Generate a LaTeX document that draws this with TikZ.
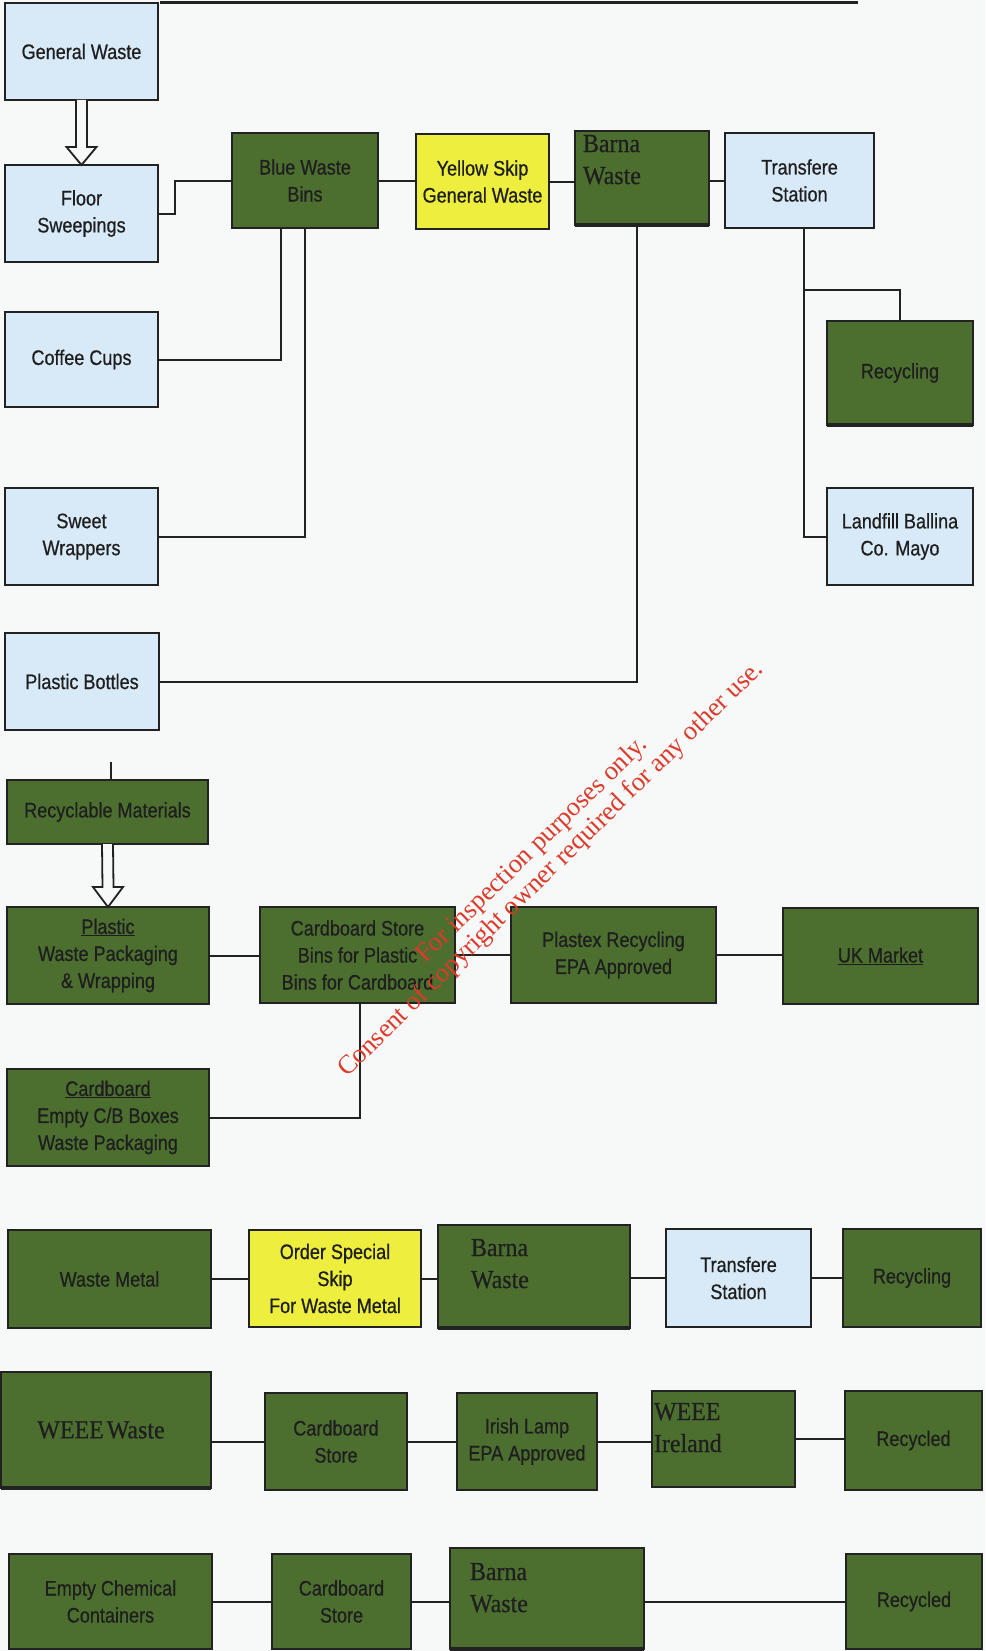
\documentclass[tikz,border=0pt]{standalone}
\usepackage{fontspec}
\usetikzlibrary{calc}
\newfontfamily\lblfont[FakeStretch=0.86,FakeBold=0.6]{Liberation Sans}
\newfontfamily\serfont[FakeStretch=0.92,FakeBold=0.6]{Liberation Serif}
\newfontfamily\wmfont{Liberation Serif}
\definecolor{bgc}{HTML}{F7F8F8}
\definecolor{lblue}{HTML}{D8E9F7}
\definecolor{ogreen}{HTML}{4C6F30}
\definecolor{yel}{HTML}{EDEE3D}
\definecolor{boxline}{HTML}{222222}
\definecolor{gtxt}{HTML}{1E1E1E}
\definecolor{wmred}{HTML}{DC3A2A}
\tikzset{
  box/.style={draw=boxline, line width=2.2, inner sep=0, outer sep=0, align=center,
    font={\lblfont\fontsize{21}{27}\selectfont}, text=gtxt},
  bluebox/.style={box, fill=lblue},
  greenbox/.style={box, fill=ogreen},
  yelbox/.style={box, fill=yel},
  serlabel/.style={inner sep=0, outer sep=0, anchor=north west, align=left, text=gtxt,
    font={\serfont\fontsize{26}{32}\selectfont}},
  conn/.style={draw=boxline, line width=2},
  hollow/.style={draw=boxline, line width=1.8, fill=bgc, line join=miter},
  heavybottom/.style={draw=boxline, line width=4.5},
  watermark/.style={text=wmred, align=center, inner sep=0,
    font={\wmfont\fontsize{26.5}{27}\selectfont}}
}
\begin{document}
\begin{tikzpicture}[x=1pt,y=-1pt]
\fill[bgc] (0,0) rectangle (985,1651);
\useasboundingbox (0,0) rectangle (985,1651);

% --- upper section ---
\node[bluebox, minimum width=153, minimum height=97] (GW) at (81.5,51.5) {General Waste};
\node[bluebox, minimum width=153, minimum height=97] (FS) at (81.5,213.5) {Floor\\Sweepings};
\node[greenbox, minimum width=146, minimum height=95] (BB) at (305,180.5) {Blue Waste\\Bins};
\node[yelbox, minimum width=133, minimum height=95] (YS) at (482.5,181.5) {Yellow Skip\\General Waste};
\node[greenbox, minimum width=134, minimum height=94,
  label={[serlabel, xshift=8, yshift=-4]north west:{Barna\\Waste}}] (BW1) at (642,178) {};
\node[bluebox, minimum width=149, minimum height=95] (TS1) at (799.5,180.5) {Transfere\\Station};
\node[greenbox, minimum width=146, minimum height=104] (RC1) at (900,373) {Recycling};
\node[bluebox, minimum width=146, minimum height=97] (LF) at (900,536.5) {Landfill Ballina\\Co. Mayo};
\node[bluebox, minimum width=153, minimum height=95] (CC) at (81.5,359.5) {Coffee Cups};
\node[bluebox, minimum width=153, minimum height=97] (SW) at (81.5,536.5) {Sweet\\Wrappers};
\node[bluebox, minimum width=154, minimum height=97] (PB) at (82,681.5) {Plastic Bottles};

% --- recyclables section ---
\node[greenbox, minimum width=201, minimum height=64] (RM) at (107.5,812) {Recyclable Materials};
\node[greenbox, minimum width=202, minimum height=97] (PL) at (108,955.5) {\underline{Plastic}\\Waste Packaging\\\& Wrapping};
\node[greenbox, minimum width=195, minimum height=96] (CS) at (357.5,955) {Cardboard Store\\Bins for Plastic\\Bins for Cardboard};
\node[greenbox, minimum width=205, minimum height=96] (PX) at (613.5,955) {Plastex Recycling\\EPA Approved};
\node[greenbox, minimum width=195, minimum height=96] (UK) at (880.5,956) {\underline{UK Market}};
\node[greenbox, minimum width=202, minimum height=97] (CB) at (108,1117.5) {\underline{Cardboard}\\Empty C/B Boxes\\Waste Packaging};

% --- metal row ---
\node[greenbox, minimum width=203, minimum height=98] (WM) at (109.5,1279) {Waste Metal};
\node[yelbox, minimum width=172, minimum height=97] (OS) at (335,1278.5) {Order Special\\Skip\\For Waste Metal};
\node[greenbox, minimum width=192, minimum height=103,
  label={[serlabel, xshift=33, yshift=-14]north west:{Barna\\Waste}}] (BW2) at (534,1276.5) {};
\node[bluebox, minimum width=145, minimum height=98] (TS2) at (738.5,1278) {Transfere\\Station};
\node[greenbox, minimum width=138, minimum height=98] (RC2) at (912,1278) {Recycling};

% --- WEEE row ---
\node[greenbox, minimum width=210, minimum height=116,
  font={\serfont\fontsize{26}{32}\selectfont}] (WW) at (106,1430) {WEEE\hspace{3pt}Waste\hspace*{10pt}};
\node[greenbox, minimum width=142, minimum height=97] (CS2) at (336,1441.5) {Cardboard\\Store};
\node[greenbox, minimum width=140, minimum height=97] (IL) at (527,1441.5) {Irish Lamp\\EPA Approved};
\node[greenbox, minimum width=143, minimum height=96,
  label={[serlabel, xshift=2, yshift=-12]north west:{WEEE\\Ireland}}] (WI) at (723.5,1439) {};
\node[greenbox, minimum width=137, minimum height=99] (RD1) at (913.5,1440.5) {Recycled};

% --- chemical row ---
\node[greenbox, minimum width=203, minimum height=95] (EC) at (110.5,1601.5) {Empty Chemical\\Containers};
\node[greenbox, minimum width=139, minimum height=95] (CS3) at (341.5,1601.5) {Cardboard\\Store};
\node[greenbox, minimum width=194, minimum height=101,
  label={[serlabel, xshift=20, yshift=-15]north west:{Barna\\Waste}}] (BW3) at (547,1598.5) {};
\node[greenbox, minimum width=136, minimum height=95] (RD2) at (914,1601.5) {Recycled};

% heavy bottom edges
\draw[heavybottom] (BW1.south west) -- (BW1.south east);
\draw[heavybottom] (BW2.south west) -- (BW2.south east);
\draw[heavybottom] (BW3.south west) -- (BW3.south east);
\draw[heavybottom] (RC1.south west) -- (RC1.south east);
\draw[heavybottom] (WW.south west) -- (WW.south east);

% --- connectors ---
\coordinate (top1) at (160,2.5);
\coordinate (top2) at (858,2.5);
\draw[conn, line width=3] (top1) -- (top2);

% hollow arrows
\draw[hollow] ($(GW.south)+(-5.5,0)$) -- ($(FS.north)+(-5.5,-18)$) -- ($(FS.north)+(-15,-18)$)
  -- (FS.north) -- ($(FS.north)+(15,-18)$) -- ($(FS.north)+(5.5,-18)$) -- ($(GW.south)+(5.5,0)$);
\draw[hollow] ($(RM.south)+(-5.5,0)$) -- ($(PL.north)+(-5.5,-20)$) -- ($(PL.north)+(-15,-20)$)
  -- (PL.north) -- ($(PL.north)+(15,-20)$) -- ($(PL.north)+(5.5,-20)$) -- ($(RM.south)+(5.5,0)$);

\draw[conn] (FS.east) -- ++(17,0) |- (BB.west);
\draw[conn] (BB.east) -- (BB.east -| YS.west);
\draw[conn] (YS.east) -- (YS.east -| BW1.west);
\draw[conn] (BW1.east |- TS1.west) -- (TS1.west);
\draw[conn] (CC.east) -| ($(BB.south west)+(49,0)$);
\draw[conn] (SW.east) -| ($(BB.south west)+(73,0)$);
\draw[conn] (PB.east) -| ($(BW1.south west)+(62,0)$);
\coordinate (tsx) at ($(TS1.south west)+(79,0)$);
\draw[conn] (tsx) |- (LF.west);
\draw[conn] ($(tsx)+(0,62)$) -| (RC1.north);

\coordinate (rmtop) at ($(RM.north)+(3,-18)$);
\draw[conn] (rmtop) -- (rmtop |- RM.north);
\draw[conn] (PL.east) -- (PL.east -| CS.west);
\draw[conn] (CS.east) -- (CS.east -| PX.west);
\draw[conn] (PX.east) -- (PX.east -| UK.west);
\draw[conn] (CB.east) -| ($(CS.south west)+(100,0)$);

\draw[conn] (WM.east) -- (WM.east -| OS.west);
\draw[conn] (OS.east) -- (OS.east -| BW2.west);
\draw[conn] (BW2.east |- TS2.west) -- (TS2.west);
\draw[conn] (TS2.east) -- (TS2.east -| RC2.west);

\draw[conn] (WW.east |- CS2.west) -- (CS2.west);
\draw[conn] (CS2.east) -- (CS2.east -| IL.west);
\draw[conn] (IL.east) -- (IL.east -| WI.west);
\draw[conn] (WI.east) -- (WI.east -| RD1.west);

\draw[conn] (EC.east) -- (EC.east -| CS3.west);
\draw[conn] (CS3.east) -- (CS3.east -| BW3.west);
\draw[conn] (BW3.east |- RD2.west) -- (RD2.west);

% watermark
\node[watermark, rotate=44.3] (wm) at (542,860)
  {For inspection purposes only.\\Consent of copyright owner required for any other use.};
\end{tikzpicture}
\end{document}
